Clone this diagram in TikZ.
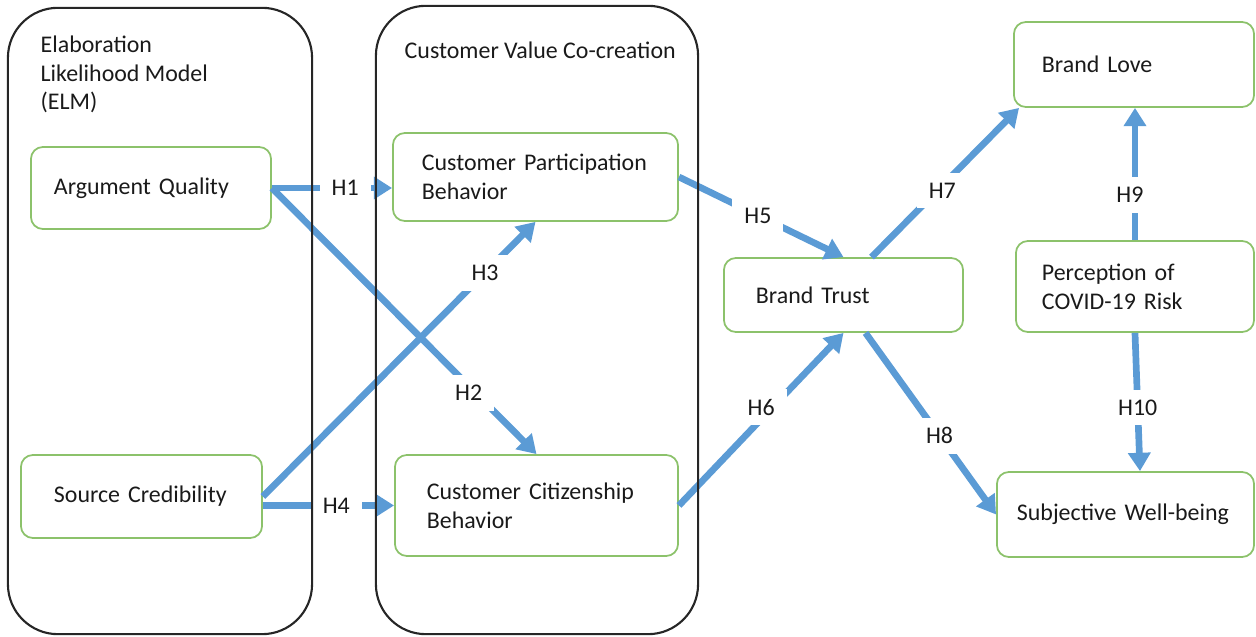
\documentclass[tikz,border=0pt]{standalone}
\usepackage{fontspec}
\setmainfont{Carlito}
\usetikzlibrary{arrows.meta}
\definecolor{arrowblue}{HTML}{5B9BD5}
\definecolor{boxgreen}{HTML}{8CC26B}
\definecolor{ink}{HTML}{1A1A1A}

\begin{document}
\begin{tikzpicture}[x=0.01cm, y=-0.01cm,
  font=\fontsize{6.8}{8.2}\selectfont, text=ink,
  group/.style={draw=black!85, line width=0.6pt, rounded corners=0.5cm, inner sep=0pt},
  box/.style={draw=boxgreen, line width=0.5pt, rounded corners=0.12cm, align=left, inner xsep=0pt},
  link/.style={draw=arrowblue, line width=1.9pt, -{Triangle[length=5.2pt,width=6.2pt]}},
  hyp/.style={fill=white, inner xsep=0.12cm, inner ysep=0.1cm, text=ink}
]
\useasboundingbox (0,0) rectangle (1256,637);

% constructs
\node[box, minimum width=2.40cm, minimum height=0.82cm, text width=1.94cm] (aq)   at (151,188)    {Argument Quality};
\node[box, minimum width=2.41cm, minimum height=0.83cm, text width=1.75cm] (sc)   at (141.5,496.5) {Source Credibility};
\node[box, minimum width=2.85cm, minimum height=0.88cm, text width=2.27cm] (cpb)  at (535.5,177)  {Customer Participation\\Behavior};
\node[box, minimum width=2.83cm, minimum height=1.01cm, text width=2.19cm] (ccb)  at (536.5,505.5) {Customer Citizenship\\Behavior};
\node[box, minimum width=2.39cm, minimum height=0.74cm, text width=1.75cm] (bt)   at (843.5,295)  {Brand Trust};
\node[box, minimum width=2.40cm, minimum height=0.85cm, text width=1.84cm] (bl)   at (1134,64.5)  {Brand Love};
\node[box, minimum width=2.38cm, minimum height=0.91cm, text width=1.86cm] (perc) at (1135,286.5) {Perception of\\COVID-19 Risk};
\node[box, minimum width=2.57cm, minimum height=0.85cm, text width=2.17cm] (swb)  at (1125.5,514.5) {Subjective Well-being};

% hypothesised paths
\draw[link] (aq.east) -- node[hyp, pos=0.61] {H1} (aq.east -| cpb.west);
\draw[link] (aq.east) -- node[hyp, pos=0.77, xshift=-0.07cm] {H2} (ccb.north);
\draw[link] (sc.east) -- node[hyp, pos=0.815] {H3} (cpb.south);
\draw[link] (sc.east |- ccb.west) -- node[hyp, pos=0.56] {H4} (ccb.west);
\draw[link] (cpb.east) -- node[hyp, pos=0.48] {H5} (bt.north);
\draw[link] (ccb.east) -- node[hyp, pos=0.5, yshift=0.12cm] {H6} (bt.south);
\draw[link] ([xshift=0.28cm]bt.north) -- node[hyp, pos=0.48, yshift=-0.05cm] {H7} ([xshift=0.06cm]bl.south west);
\draw[link] ([xshift=0.22cm]bt.south) -- node[hyp, pos=0.567] {H8} (swb.west);
\draw[link] (perc.north) -- node[hyp, pos=0.34, xshift=-0.05cm] {H9} (perc.north |- bl.south);
\draw[link] (perc.south) -- node[hyp, pos=0.54] {H10} ([xshift=0.145cm]swb.north);

% theoretical groupings
\node[group, minimum width=3.04cm, minimum height=6.26cm] (elm) at (160,321) {};
\node[group, minimum width=3.22cm, minimum height=6.28cm] (cvc) at (537,320) {};
\node[anchor=north west, align=left, inner sep=0pt] (elmtitle) at (40,35) {Elaboration\\Likelihood Model\\(ELM)};
\node[anchor=west, inner sep=0pt] (cvctitle) at (404,50) {Customer Value Co-creation};
\end{tikzpicture}
\end{document}
